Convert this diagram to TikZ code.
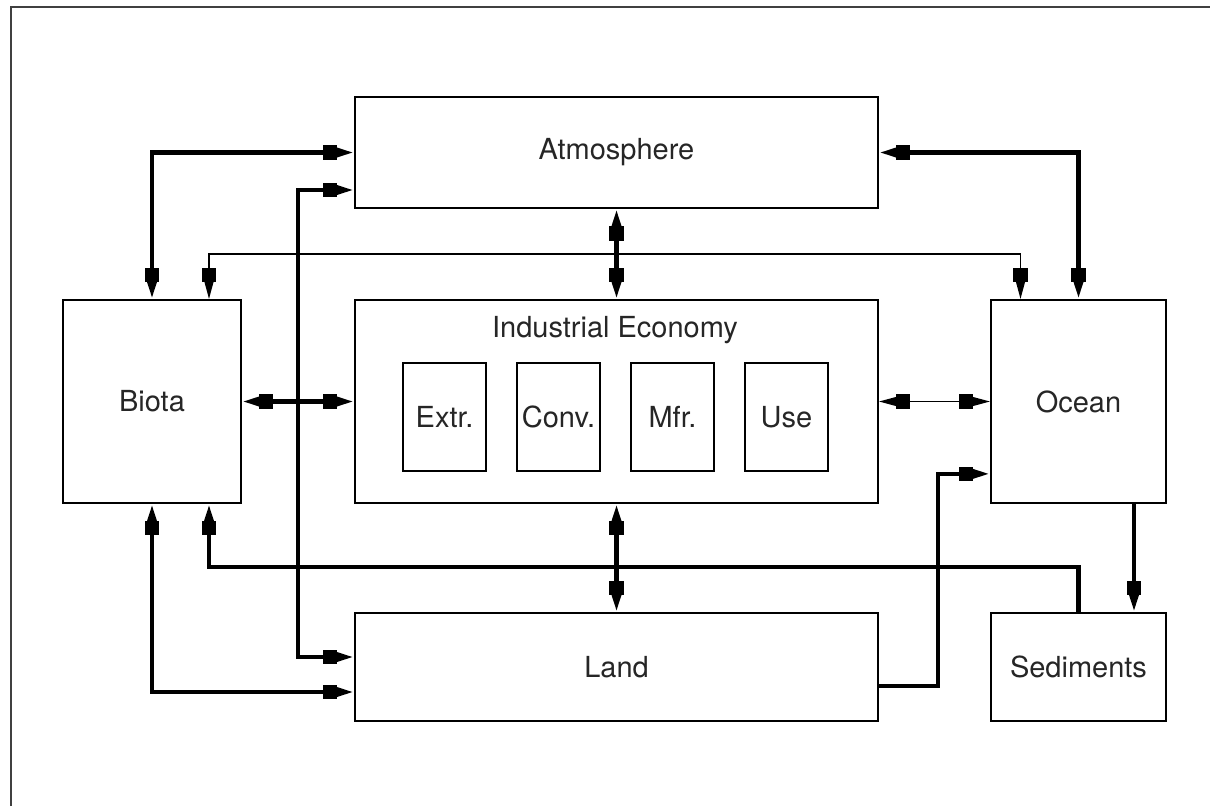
\documentclass[tikz,border=0pt]{standalone}
\usepackage{fontspec}
\setmainfont{TeX Gyre Heros}
\usetikzlibrary{arrows.meta,calc}
\tikzset{
    block/.style={draw, line width=1pt, inner sep=0pt, align=center,
        text=black!85, font=\fontsize{16.5}{19}\selectfont},
    stage/.style={block, minimum width=1.66cm, minimum height=2.16cm},
    flow line/.style={line width=2.3pt},
    feed line/.style={line width=1.1pt},
    both ends/.style={{Triangle[length=10pt,width=5pt]Rectangle[length=8pt,width=8pt]}-{Rectangle[length=8pt,width=8pt]Triangle[length=10pt,width=5pt]}},
    one end/.style={-{Rectangle[length=8pt,width=8pt]Triangle[length=10pt,width=5pt]}},
    frame line/.style={line width=1.3pt, black!75}
}

\begin{document}
\begin{tikzpicture}[x=0.02cm,y=-0.02cm]
    \useasboundingbox (0,0) rectangle (1210,806);
    \draw[frame line] (11,806) -- (11,7) -- (1210,7);

    % reservoirs
    \node[block, minimum width=10.46cm, minimum height=2.22cm] (atmo) at (616.5,152.5) {Atmosphere};
    \node[block, minimum width=3.56cm, minimum height=4.06cm] (biota) at (152,401.5) {Biota};
    \node[block, minimum width=10.46cm, minimum height=4.06cm] (econ) at (616.5,401.5) {};
    \node[block, minimum width=3.5cm, minimum height=4.06cm] (ocean) at (1078.5,401.5) {Ocean};
    \node[block, minimum width=10.46cm, minimum height=2.16cm] (land) at (616.5,667) {Land};
    \node[block, minimum width=3.5cm, minimum height=2.16cm] (sed) at (1078.5,667) {Sediments};

    % inside the economy
    \node[block, draw=none] (econlabel) at (615,330) {Industrial Economy};
    \foreach \name/\txt/\xc in {extr/Extr./444.5, conv/Conv./558.5, mfr/Mfr./672.5, use/Use/786.5}
        \node[stage] (\name) at (\xc,417) {\txt};

    % routing points
    \coordinate (topbus) at (615,254);
    \coordinate (lowbus) at (615,567);
    \coordinate (landjog) at (938,580);
    \coordinate (landrise) at (298,400);

    % exchanges
    \draw[flow line, both ends] (biota.north) |- (atmo.west);
    \draw[flow line, both ends] (atmo.east) -| (ocean.north);
    \draw[feed line, both ends] ($(biota.north)+(57,0)$) |- (topbus) -| ($(ocean.north)+(-58,0)$);
    \draw[flow line, both ends] ($(atmo.west)+(0,37.5)$) -| (landrise) |- ($(land.west)+(0,-10)$);
    \draw[flow line, both ends] (atmo.south) -- (econ.north);
    \draw[flow line, both ends] (biota.east) -- (econ.west);
    \draw[feed line, both ends] (econ.east) -- (ocean.west);
    \draw[flow line, both ends] (econ.south) -- (land.north);
    \draw[flow line, both ends] (biota.south) |- ($(land.west)+(0,25)$);
    \draw[flow line, one end] (sed.north) |- (lowbus) -| ($(biota.south)+(57,0)$);
    \draw[flow line, one end] ($(land.east)+(0,19)$) -| (landjog) |- ($(ocean.south west)+(0,-30)$);
    \draw[flow line, one end] ($(ocean.south)+(55.5,0)$) -- ($(sed.north)+(55.5,0)$);
\end{tikzpicture}
\end{document}
